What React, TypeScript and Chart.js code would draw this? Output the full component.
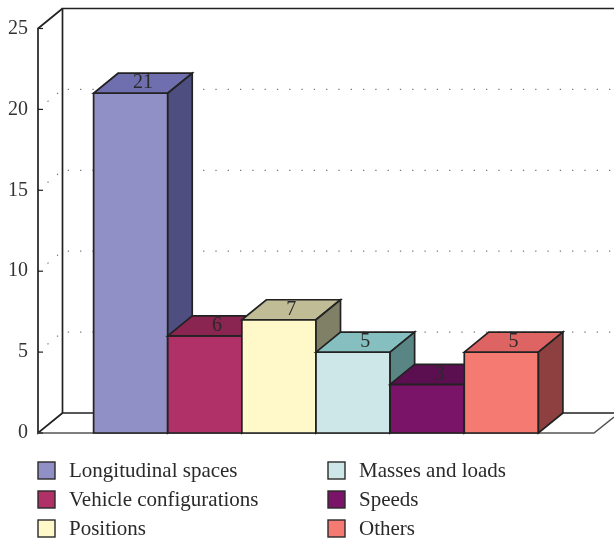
import React, { useEffect, useRef } from "react";
import { Chart, registerables } from "chart.js";

Chart.register(...registerables);

const seriesNames = ["Longitudinal spaces", "Vehicle configurations", "Positions", "Masses and loads", "Speeds", "Others"];
const seriesValues = [21, 6, 7, 5, 3, 5];
const frontColors = ["#9090c6", "#b03167", "#fff8c8", "#cde6e7", "#7a1468", "#f47a72"];
const topColors = ["#6f6fb0", "#8a2450", "#bfbc96", "#86bfc0", "#5c0f50", "#dd6462"];
const sideColors = ["#4e4e80", "#6e1c40", "#808066", "#5a8585", "#3d0a35", "#8e4040"];
const yTicks = [0, 5, 10, 15, 20, 25];

const DX = 24.5;
const DY = -20;
const INK = "#222222";
const FONT = '20px "Liberation Serif"';

const poly = (ctx: CanvasRenderingContext2D, pts: number[][], fill: string | null, stroke = INK, w = 1.7) => {
  ctx.beginPath();
  pts.forEach((p, i) => (i ? ctx.lineTo(p[0], p[1]) : ctx.moveTo(p[0], p[1])));
  if (fill) {
    ctx.closePath();
    ctx.fillStyle = fill;
    ctx.fill();
  }
  ctx.strokeStyle = stroke;
  ctx.lineWidth = w;
  ctx.lineJoin = "miter";
  ctx.stroke();
};

const box3d = {
  id: "box3d",
  beforeDatasetsDraw(chart: any) {
    const { ctx, chartArea: a, scales } = chart;
    const y = scales.y;
    const top = y.getPixelForValue(25);
    const base = y.getPixelForValue(0);
    const W = chart.width;
    ctx.save();
    // dotted grid lines on the side wall and back wall
    ctx.setLineDash([1.3, 11]);
    ctx.strokeStyle = "#777777";
    ctx.lineWidth = 1.2;
    yTicks.slice(1, -1).forEach((t) => {
      const py = y.getPixelForValue(t);
      ctx.beginPath();
      ctx.moveTo(a.left, py);
      ctx.lineTo(a.left + DX, py + DY);
      ctx.lineTo(W, py + DY);
      ctx.stroke();
    });
    ctx.setLineDash([]);
    // walls and floor
    poly(ctx, [[W, top + DY], [a.left + DX, top + DY], [a.left + DX, base + DY], [W, base + DY]], null);
    poly(ctx, [[a.left + DX, top + DY], [a.left, top], [a.left, base], [a.left + DX, base + DY]], null);
    poly(ctx, [[a.left, base], [a.right, base], [W, base + DY * 0.8]], null, "#555555", 1.6);
    // tick marks
    yTicks.forEach((t) => {
      const py = y.getPixelForValue(t);
      poly(ctx, [[a.left, py], [a.left + 5, py]], null, INK, 1.2);
    });
    // bars left to right, each followed by its top and side faces
    seriesNames.forEach((_, i) => {
      const meta = chart.getDatasetMeta(i);
      meta.controller.draw();
      const bar = meta.data[0];
      const half = bar.width / 2;
      const l = bar.x - half;
      const r = bar.x + half;
      const t = bar.y;
      const b = bar.base;
      poly(ctx, [[l, t], [r, t], [r, b], [l, b], [l, t]], null);
      poly(ctx, [[l, t], [l + DX, t + DY], [r + DX, t + DY], [r, t]], topColors[i]);
      poly(ctx, [[r, t], [r + DX, t + DY], [r + DX, b + DY], [r, b]], sideColors[i]);
      ctx.fillStyle = "#2a2a2a";
      ctx.font = FONT;
      ctx.textAlign = "center";
      ctx.textBaseline = "middle";
      ctx.fillText(String(seriesValues[i]), bar.x + DX / 2, t + DY / 2);
    });
    ctx.restore();
    return false;
  },
  afterDraw(chart: any) {
    const { ctx } = chart;
    const cols = [38, 328];
    const rows = [462, 491, 520];
    ctx.save();
    ctx.font = '21px "Liberation Serif"';
    ctx.textAlign = "left";
    ctx.textBaseline = "alphabetic";
    seriesNames.forEach((name, i) => {
      const x = cols[Math.floor(i / 3)];
      const y = rows[i % 3];
      ctx.fillStyle = frontColors[i];
      ctx.fillRect(x, y, 17, 17);
      ctx.strokeStyle = "#2a2a2a";
      ctx.lineWidth = 1.4;
      ctx.strokeRect(x, y, 17, 17);
      ctx.fillStyle = "#2a2a2a";
      ctx.fillText(name, x + 31, y + 15);
    });
    ctx.restore();
  },
};

export default function App() {
  const ref = useRef<HTMLCanvasElement>(null);
  useEffect(() => {
    const chart = new Chart(ref.current as HTMLCanvasElement, {
      type: "bar",
      data: {
        labels: ["Parameters"],
        datasets: seriesNames.map((label, i) => ({
          label,
          data: [seriesValues[i]],
          backgroundColor: frontColors[i],
          borderWidth: 0,
          categoryPercentage: 0.8,
          barPercentage: 1,
        })),
      },
      options: {
        responsive: false,
        animation: false,
        layout: { padding: { left: 0, right: 20, top: 28.5, bottom: 106 } },
        plugins: { legend: { display: false }, title: { display: false }, tooltip: { enabled: false } },
        scales: {
          x: { display: false },
          y: {
            min: 0,
            max: 25,
            ticks: {
              stepSize: 5,
              padding: 10,
              color: "#333333",
              font: { family: "Liberation Serif", size: 20 },
            },
            grid: { display: false, drawTicks: false },
            border: { display: false },
            afterFit: (s: any) => {
              s.width = 38;
            },
          },
        },
      },
      plugins: [box3d],
    } as any);
    return () => chart.destroy();
  }, []);
  return (
    <div style={{ position: "fixed", left: 0, top: 0, width: 614, height: 539, background: "#fff" }}>
      <canvas ref={ref} width={614} height={539} style={{ display: "block", width: 614, height: 539 }} />
    </div>
  );
}
